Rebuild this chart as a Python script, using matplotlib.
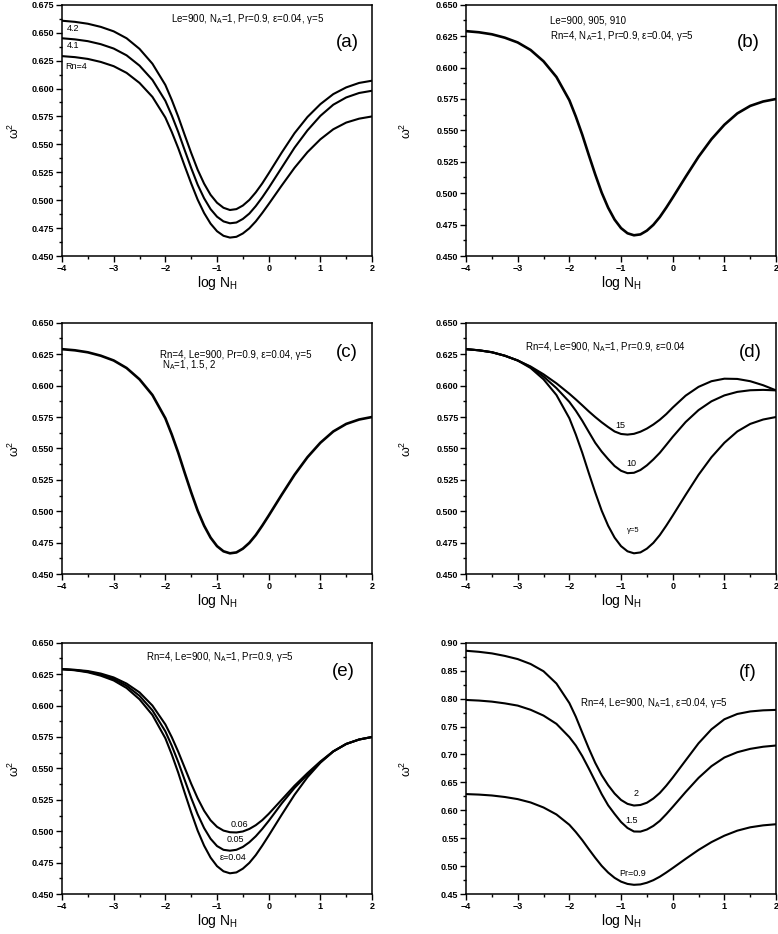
import matplotlib
matplotlib.use('Agg')
import matplotlib.pyplot as plt
from matplotlib.ticker import MultipleLocator, FormatStrFormatter

plt.rcParams['font.family'] = ['Liberation Sans', 'DejaVu Sans']
plt.rcParams['mathtext.default'] = 'regular'

# log N_H grid (denser around the dip)
logNH = [-4.0, -3.75, -3.5, -3.25, -3.0, -2.75, -2.5, -2.25, -2.0, -1.875, -1.75, -1.625,
         -1.5, -1.375, -1.25, -1.125, -1.0, -0.875, -0.75, -0.625, -0.5, -0.375, -0.25,
         -0.125, 0.0, 0.25, 0.5, 0.75, 1.0, 1.25, 1.5, 1.75, 2.0]

# base case: Rn=4, Le=900, NA=1, Pr=0.9, eps=0.04, gamma=5
base = [0.6290, 0.6281, 0.6265, 0.6238, 0.6200, 0.6140, 0.6050, 0.5925, 0.5740, 0.5610,
        0.5465, 0.5305, 0.5150, 0.5005, 0.4885, 0.4790, 0.4722, 0.4681, 0.4665, 0.4672,
        0.4702, 0.4748, 0.4810, 0.4885, 0.4965, 0.5130, 0.5290, 0.5430, 0.5545, 0.5635,
        0.5695, 0.5730, 0.5750]

# (a) Rn
rn41 = [0.6450, 0.6440, 0.6424, 0.6397, 0.6358, 0.6297, 0.6205, 0.6077, 0.5890, 0.5758,
        0.5610, 0.5447, 0.5288, 0.5139, 0.5017, 0.4920, 0.4852, 0.4810, 0.4793, 0.4800,
        0.4832, 0.4880, 0.4947, 0.5025, 0.5110, 0.5290, 0.5470, 0.5625, 0.5755, 0.5855,
        0.5920, 0.5960, 0.5980]
rn42 = [0.6607, 0.6597, 0.6580, 0.6552, 0.6512, 0.6450, 0.6355, 0.6222, 0.6032, 0.5897,
        0.5747, 0.5583, 0.5423, 0.5273, 0.5148, 0.5048, 0.4977, 0.4932, 0.4912, 0.4920,
        0.4952, 0.5002, 0.5070, 0.5150, 0.5240, 0.5425, 0.5600, 0.5745, 0.5860, 0.5950,
        0.6010, 0.6050, 0.6070]

# (d) gamma
gam10 = [0.6290, 0.6281, 0.6266, 0.6238, 0.6200, 0.6148, 0.6072, 0.5980, 0.5870, 0.5800,
         0.5720, 0.5632, 0.5545, 0.5475, 0.5415, 0.5360, 0.5322, 0.5303, 0.5306, 0.5328,
         0.5365, 0.5412, 0.5465, 0.5528, 0.5592, 0.5710, 0.5805, 0.5875, 0.5922, 0.5950,
         0.5963, 0.5966, 0.5962]
gam15 = [0.6290, 0.6281, 0.6266, 0.6238, 0.6200, 0.6152, 0.6090, 0.6018, 0.5935, 0.5890,
         0.5843, 0.5795, 0.5750, 0.5708, 0.5670, 0.5635, 0.5615, 0.5610, 0.5616, 0.5633,
         0.5658, 0.5690, 0.5728, 0.5773, 0.5825, 0.5920, 0.5990, 0.6035, 0.6055, 0.6053,
         0.6035, 0.6003, 0.5962]

# (e) epsilon
eps05 = [0.6290, 0.6283, 0.6270, 0.6246, 0.6212, 0.6158, 0.6078, 0.5962, 0.5795, 0.5680,
         0.5550, 0.5407, 0.5265, 0.5135, 0.5025, 0.4940, 0.4882, 0.4852, 0.4845, 0.4852,
         0.4875, 0.4912, 0.4960, 0.5018, 0.5082, 0.5220, 0.5345, 0.5450, 0.5550, 0.5635,
         0.5695, 0.5730, 0.5750]
eps06 = [0.6290, 0.6285, 0.6275, 0.6255, 0.6224, 0.6175, 0.6105, 0.6000, 0.5850, 0.5748,
         0.5632, 0.5505, 0.5378, 0.5262, 0.5163, 0.5087, 0.5035, 0.5005, 0.4992, 0.4990,
         0.4998, 0.5018, 0.5048, 0.5088, 0.5138, 0.5250, 0.5362, 0.5462, 0.5555, 0.5636,
         0.5694, 0.5730, 0.5750]

# (f) Pr
pr15 = [0.7976, 0.7965, 0.7946, 0.7915, 0.7875, 0.7800, 0.7696, 0.7548, 0.7310, 0.7160,
        0.6970, 0.6750, 0.6520, 0.6290, 0.6090, 0.5935, 0.5790, 0.5683, 0.5620, 0.5618,
        0.5655, 0.5720, 0.5810, 0.5930, 0.6060, 0.6327, 0.6580, 0.6790, 0.6945, 0.7040,
        0.7100, 0.7138, 0.7160]
pr2 = [0.8857, 0.8838, 0.8810, 0.8765, 0.8708, 0.8620, 0.8490, 0.8270, 0.7920, 0.7675,
       0.7390, 0.7110, 0.6850, 0.6630, 0.6450, 0.6300, 0.6185, 0.6115, 0.6085, 0.6095,
       0.6135, 0.6210, 0.6310, 0.6440, 0.6585, 0.6893, 0.7200, 0.7450, 0.7630, 0.7725,
       0.7770, 0.7790, 0.7798]

fig = plt.figure(figsize=(7.78, 9.34), dpi=100)
L, R = 0.0797, 0.599
W, H = 0.3985, 0.2690
rows = [0.7259, 0.3854, 0.0428]


def setup(ax, ylim, ystep, fmt, ylab_x):
    ax.set_xlim(-4, 2)
    ax.set_ylim(*ylim)
    ax.xaxis.set_major_locator(MultipleLocator(1))
    ax.xaxis.set_minor_locator(MultipleLocator(0.5))
    ax.yaxis.set_major_locator(MultipleLocator(ystep))
    ax.yaxis.set_minor_locator(MultipleLocator(ystep / 2))
    ax.yaxis.set_major_formatter(FormatStrFormatter(fmt))
    ax.tick_params(which='both', direction='out', top=False, right=False, width=1.0)
    ax.tick_params(which='major', length=4, labelsize=6.5, pad=1.5)
    ax.tick_params(which='minor', length=2.2)
    for lab in ax.get_xticklabels() + ax.get_yticklabels():
        lab.set_fontweight('bold')
    for s in ax.spines.values():
        s.set_linewidth(1.1)
    ax.set_xlabel('log N$_H$', fontsize=10)
    ax.set_ylabel('ω$^2$', fontsize=9)
    ax.xaxis.set_label_coords(0.5, -0.072)
    ax.yaxis.set_label_coords(ylab_x, 0.5)


lw = 1.5
txt = dict(fontsize=7)
lbl = dict(fontsize=6.5, ha='center', va='center')

# (a)
ax = fig.add_axes([L, rows[0], W, H])
for y in (base, rn41, rn42):
    ax.plot(logNH, y, color='black', lw=lw)
setup(ax, (0.450, 0.675), 0.025, '%.3f', -0.128)
ax.text(0.60, 0.944, 'Le=900, N$_A$=1, Pr=0.9, ε=0.04, γ=5', transform=ax.transAxes, ha='center', va='center', **txt)
ax.text(0.919, 0.849, '(a)', transform=ax.transAxes, ha='center', va='center', fontsize=13.5)
ax.text(-3.79, 0.6536, '4.2', **lbl)
ax.text(-3.79, 0.6384, '4.1', **lbl)
ax.text(-3.73, 0.6196, 'Rn=4', **lbl)

# (b)
ax = fig.add_axes([R, rows[0], W, H])
ax.plot(logNH, base, color='black', lw=lw + 0.4)
setup(ax, (0.450, 0.650), 0.025, '%.3f', -0.168)
ax.text(0.271, 0.937, 'Le=900, 905, 910', transform=ax.transAxes, ha='left', va='center', **txt)
ax.text(0.271, 0.877, 'Rn=4, N$_A$=1, Pr=0.9, ε=0.04, γ=5', transform=ax.transAxes, ha='left', va='center', **txt)
ax.text(0.91, 0.849, '(b)', transform=ax.transAxes, ha='center', va='center', fontsize=13.5)

# (c)
ax = fig.add_axes([L, rows[1], W, H])
ax.plot(logNH, base, color='black', lw=lw + 0.4)
setup(ax, (0.450, 0.650), 0.025, '%.3f', -0.128)
ax.text(0.316, 0.872, 'Rn=4, Le=900, Pr=0.9, ε=0.04, γ=5', transform=ax.transAxes, ha='left', va='center', **txt)
ax.text(0.322, 0.832, 'N$_A$=1, 1.5, 2', transform=ax.transAxes, ha='left', va='center', **txt)
ax.text(0.919, 0.88, '(c)', transform=ax.transAxes, ha='center', va='center', fontsize=13.5)

# (d)
ax = fig.add_axes([R, rows[1], W, H])
for y in (base, gam10, gam15):
    ax.plot(logNH, y, color='black', lw=lw)
setup(ax, (0.450, 0.650), 0.025, '%.3f', -0.168)
ax.text(0.449, 0.904, 'Rn=4, Le=900, N$_A$=1, Pr=0.9, ε=0.04', transform=ax.transAxes, ha='center', va='center', **txt)
ax.text(0.916, 0.88, '(d)', transform=ax.transAxes, ha='center', va='center', fontsize=13.5)
ax.text(-1.02, 0.568, '15', **lbl)
ax.text(-0.81, 0.5376, '10', **lbl)
ax.text(-0.77, 0.4843, 'γ=5', fontsize=5.5, ha='center', va='center')

# (e)
ax = fig.add_axes([L, rows[2], W, H])
for y in (base, eps05, eps06):
    ax.plot(logNH, y, color='black', lw=lw)
setup(ax, (0.450, 0.650), 0.025, '%.3f', -0.128)
ax.text(0.51, 0.944, 'Rn=4, Le=900, N$_A$=1, Pr=0.9, γ=5', transform=ax.transAxes, ha='center', va='center', **txt)
ax.text(0.906, 0.884, '(e)', transform=ax.transAxes, ha='center', va='center', fontsize=13.5)
ax.text(-0.575, 0.5055, '0.06', **lbl)
ax.text(-0.65, 0.4935, '0.05', **lbl)
ax.text(-0.69, 0.4787, 'ε=0.04', **lbl)

# (f)
ax = fig.add_axes([R, rows[2], W, H])
for y in (base, pr15, pr2):
    ax.plot(logNH, y, color='black', lw=lw)
setup(ax, (0.45, 0.90), 0.05, '%.2f', -0.168)
ax.text(0.606, 0.762, 'Rn=4, Le=900, N$_A$=1, ε=0.04, γ=5', transform=ax.transAxes, ha='center', va='center', **txt)
ax.text(0.91, 0.881, '(f)', transform=ax.transAxes, ha='center', va='center', fontsize=13.5)
ax.text(-0.71, 0.630, '2', **lbl)
ax.text(-0.79, 0.582, '1.5', **lbl)
ax.text(-0.77, 0.4875, 'Pr=0.9', **lbl)

fig.savefig('out.png', dpi=100)
